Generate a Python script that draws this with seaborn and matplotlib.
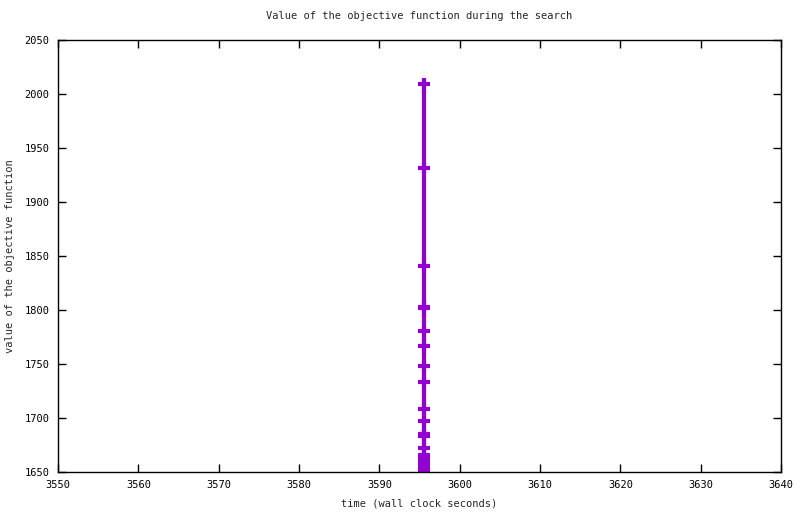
import matplotlib
matplotlib.use("Agg")
import matplotlib.pyplot as plt
import seaborn as sns
import pandas as pd

time_s = [3595.5] * 20
objective = [2009.5, 1931.8, 1841.0, 1802.5, 1801.5, 1781.0, 1767.0, 1748.5,
             1733.5, 1708.0, 1697.0, 1685.0, 1683.5, 1672.5, 1666.0, 1663.0,
             1660.0, 1657.0, 1654.0, 1652.0]
x_ticks = [3550, 3560, 3570, 3580, 3590, 3600, 3610, 3620, 3630, 3640]
y_ticks = [1650, 1700, 1750, 1800, 1850, 1900, 1950, 2000, 2050]

sns.set_style("ticks", {"xtick.direction": "in", "ytick.direction": "in",
                        "xtick.top": True, "ytick.right": True,
                        "xtick.bottom": True, "ytick.left": True})
plt.rcParams['font.family'] = ['DejaVu Sans Mono']

df = pd.DataFrame({"t": time_s, "v": objective})

fig = plt.figure(figsize=(8, 5.14), dpi=100)
ax = fig.add_axes([58/800, 1-472/514, (781-58)/800, (472-40)/514])

sns.lineplot(data=df, x="t", y="v", estimator=None, sort=False, ax=ax,
             color="#9400D3", linewidth=3, marker="+", markersize=9,
             markeredgewidth=3, markeredgecolor="#9400D3")

ax.set_xlim(3550, 3640)
ax.set_ylim(1650, 2050)
ax.set_xticks(x_ticks)
ax.set_yticks(y_ticks)
ax.xaxis.set_ticks_position("both")
ax.yaxis.set_ticks_position("both")
ax.tick_params(direction="in", length=6, width=1, labelsize=7.5,
               colors="black", pad=6)
for s in ax.spines.values():
    s.set_visible(True)
    s.set_color("black")
    s.set_linewidth(1)
ax.set_xlabel("time (wall clock seconds)", fontsize=7.5, labelpad=6)
ax.set_ylabel("value of the objective function", fontsize=7.5, labelpad=7)
ax.set_title("Value of the objective function during the search", fontsize=7.5, pad=15)

fig.savefig("out.png", dpi=100)
